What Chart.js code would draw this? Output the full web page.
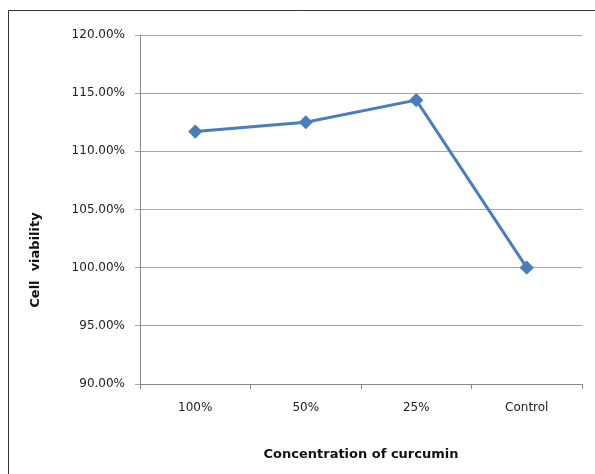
<!DOCTYPE html>
<html>
<head>
<meta charset="utf-8">
<script src="https://cdn.jsdelivr.net/npm/chart.js@4"></script>
<style>
  html, body { margin: 0; padding: 0; background: #fff; }
  #wrap { width: 595px; height: 474px; position: relative; }
</style>
</head>
<body>
<div id="wrap"><canvas id="viabilityChart" width="595" height="474"></canvas></div>
<script>
// data
const concentrations = ['100%', '50%', '25%', 'Control'];
const viability = [111.7, 112.5, 114.4, 100.0];
const yTicks = [90, 95, 100, 105, 110, 115, 120];

Chart.defaults.font.family = '"DejaVu Sans", Verdana, sans-serif';
Chart.defaults.font.size = 12;
Chart.defaults.color = '#222';

// thin frame round the figure (left + top edges only, like the source)
// plus the y title, which sits lower than the chart area centre in the source
const framePlugin = {
    id: 'frame',
    beforeDraw(chart) {
        const ctx = chart.ctx;
        ctx.save();
        ctx.strokeStyle = '#333';
        ctx.lineWidth = 1;
        ctx.beginPath();
        ctx.moveTo(8.5, chart.height);
        ctx.lineTo(8.5, 10.5);
        ctx.lineTo(chart.width, 10.5);
        ctx.stroke();
        ctx.restore();
    },
    afterDraw(chart) {
        const ctx = chart.ctx;
        ctx.save();
        ctx.translate(36, 260);
        ctx.rotate(-Math.PI / 2);
        ctx.font = 'bold 13px "DejaVu Sans", Verdana, sans-serif';
        ctx.fillStyle = '#111';
        ctx.textAlign = 'center';
        ctx.textBaseline = 'middle';
        ctx.fillText('Cell  viability', 0, 0);
        ctx.restore();
    }
};

new Chart(document.getElementById('viabilityChart'), {
    type: 'line',
    data: {
        labels: concentrations,
        datasets: [{
            label: 'Cell viability',
            data: viability,
            borderColor: '#4a7ebb',
            backgroundColor: '#4a7ebb',
            borderWidth: 3,
            pointStyle: 'rectRot',
            pointRadius: 5,
            pointHoverRadius: 5,
            tension: 0,
        }],
    },
    options: {
        responsive: false,
        animation: false,
        layout: { padding: { top: 35, right: 13, left: 0, bottom: 0 } },
        plugins: {
            legend: { display: false },
            tooltip: { enabled: false },
        },
        scales: {
            x: {
                offset: true,
                afterFit: s => { s.height = 90; },
                grid: {
                    offset: true,
                    drawOnChartArea: false,
                    drawTicks: true,
                    tickLength: 5,
                    color: '#888',
                },
                border: { color: '#888' },
                ticks: { padding: 12, color: '#222' },
                title: {
                    display: true,
                    text: 'Concentration of curcumin',
                    font: { size: 13, weight: 'bold' },
                    color: '#111',
                    padding: { bottom: 12 },
                },
            },
            y: {
                min: 90,
                max: 120,
                afterFit: s => { s.width = 140; },
                afterBuildTicks: s => { s.ticks = yTicks.map(v => ({ value: v })); },
                grid: {
                    color: '#a6a6a6',
                    tickLength: 5,
                    lineWidth: 1,
                },
                border: { color: '#888' },
                ticks: {
                    padding: 10,
                    color: '#222',
                    callback: v => v.toFixed(2) + '%',
                },
            },
        },
    },
    plugins: [framePlugin],
});
</script>
</body>
</html>
